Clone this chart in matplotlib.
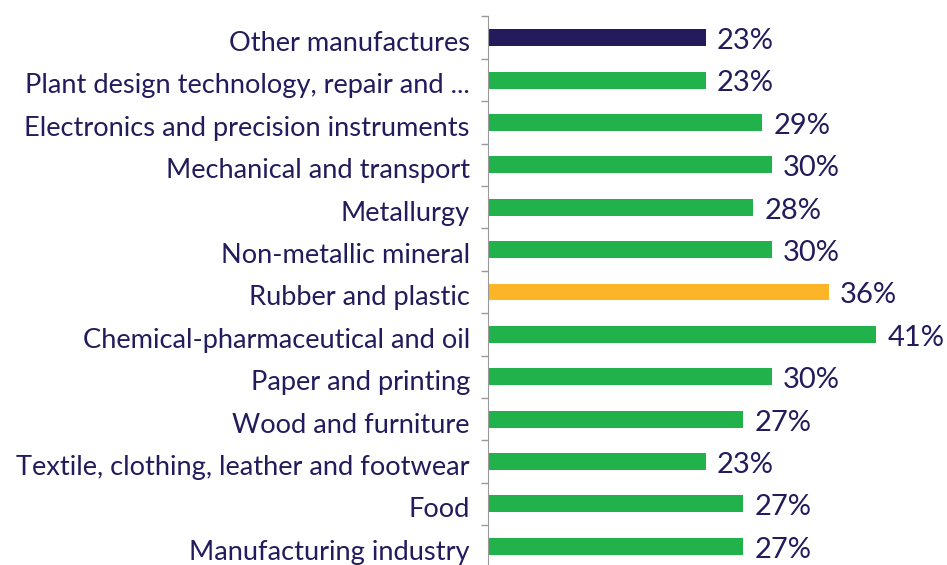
import numpy as np
import matplotlib.pyplot as plt

# Datos (de arriba hacia abajo)
categorias = ['Other manufactures',
              'Plant design technology, repair and ...',
              'Electronics and precision instruments',
              'Mechanical and transport',
              'Metallurgy',
              'Non-metallic mineral',
              'Rubber and plastic',
              'Chemical-pharmaceutical and oil',
              'Paper and printing',
              'Wood and furniture',
              'Textile, clothing, leather and footwear',
              'Food',
              'Manufacturing industry']
valores = [23, 23, 29, 30, 28, 30, 36, 41, 30, 27, 23, 27, 27]

navy = '#221c5c'
verde = '#22b24c'
naranja = '#fbb526'
colores = [navy] + [verde] * 5 + [naranja] + [verde] * 6

plt.rcParams['font.family'] = ['Lato', 'DejaVu Sans']

fig = plt.figure(figsize=(9.47, 5.65), dpi=100)
ax = fig.add_axes([488 / 947, -2.5 / 565, 425.7 / 947, 551 / 565])

y = np.arange(len(categorias))
ax.barh(y, valores, height=0.4, color=colores)
ax.set_ylim(len(categorias) - 0.5, -0.5)
ax.set_xlim(0, 45)

for yi, v in zip(y, valores):
    ax.text(v + 1.2, yi + 0.08, f'{v}%', va='center', ha='left',
            fontsize=21, color=navy)

ax.set_yticks(y + 0.08)
ax.set_yticklabels(categorias, fontsize=19.6, color=navy)
ax.tick_params(axis='y', which='major', length=0, pad=13)
ax.set_yticks(np.arange(-0.5, len(categorias), 1), minor=True)
ax.tick_params(axis='y', which='minor', length=5, color='#999999', width=1)
ax.set_xticks([])

for s in ['top', 'right', 'bottom']:
    ax.spines[s].set_visible(False)
ax.spines['left'].set_color('#999999')

fig.savefig('out.png', dpi=100)
